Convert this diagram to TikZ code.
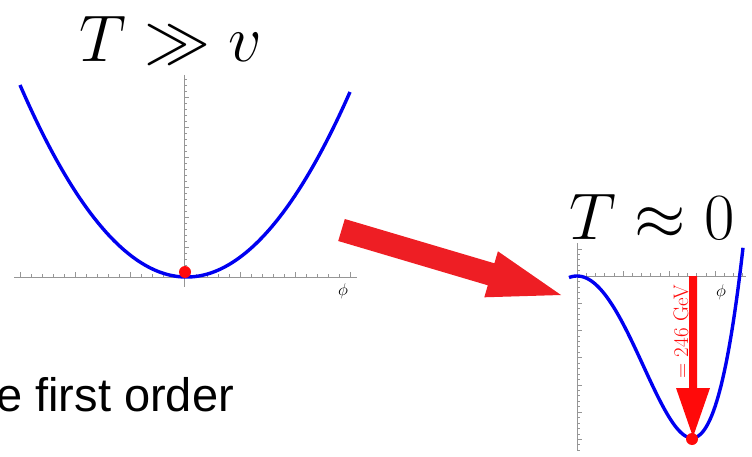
\RequirePackage{fix-cm}
\documentclass[tikz,border=0pt]{standalone}
\usepackage{fontspec}
\newfontfamily\arialfont{Liberation Sans}
\definecolor{axisgray}{RGB}{150,150,150}
\definecolor{curveblue}{RGB}{0,0,240}
\definecolor{dotred}{RGB}{255,10,10}
\definecolor{arrowred}{RGB}{238,30,36}
\begin{document}
\begin{tikzpicture}[x=1pt,y=-1pt,
  axisline/.style={draw=axisgray, line width=0.8pt},
  tickmark/.style={draw=axisgray, line width=0.5pt},
  curve/.style={draw=curveblue, line width=3.4pt},
  dotmark/.style={fill=dotred},
  titletext/.style={inner sep=0pt, anchor=base, font=\fontsize{66}{70}\selectfont},
  philabel/.style={inner sep=0pt, font=\fontsize{17}{17}\selectfont}]
\useasboundingbox (0,0) rectangle (752,457);
% ---------- left plot ----------
\draw[axisline] (14,277) -- (357,277);
\draw[axisline] (184,75) -- (184,287);
\foreach \i in {0,...,30} \draw[tickmark] ({20+11*\i},277) -- ++(0,-3);
\foreach \i in {0,...,6} \draw[tickmark] ({20+55*\i},277) -- ++(0,-5);
\foreach \i in {1,...,33} \draw[tickmark] (184,{277-6*\i}) -- ++(3,0);
\foreach \i in {1,...,6} \draw[tickmark] (184,{277-30*\i}) -- ++(5,0);
\draw[curve] plot[domain=-164:166,samples=120,smooth] ({184+\x},{277-0.6925*(\x/10)*(\x/10)+0.035*\x});
\fill[dotmark] (185,272) circle (6);
\node[titletext] (hot) at (171,62) {$T \gg v$};
\node[philabel] (phileft) at (343,291) {$\phi$};
% ---------- right plot ----------
\draw[axisline] (570,276) -- (746,276);
\draw[axisline] (577,243) -- (577,451);
\foreach \i in {1,...,18} \draw[tickmark] ({577+9.2*\i},276) -- ++(0,-3);
\foreach \i in {1,2,3} \draw[tickmark] ({577+46*\i},276) -- ++(0,-5);
\foreach \i in {-5,...,32} \draw[tickmark] (577,{276+5.44*\i}) -- ++(3,0);
\foreach \i in {-1,...,6} \draw[tickmark] (577,{276+27.2*\i}) -- ++(5,0);
\draw[curve] plot[domain=-8:166,samples=140,smooth] ({577+\x},{276+162*(2*(\x/115)*(\x/115)-(\x/115)*(\x/115)*(\x/115)*(\x/115))});
\node[titletext] (cold) at (652,240) {$T \approx 0$};
\node[philabel] (phiright) at (721,292) {$\phi$};
% vev arrow
\fill[dotred] (689,276) -- (697,276) -- (697,388) -- (710,388) -- (693,437) -- (676,388) -- (689,388) -- cycle;
\node[rotate=90, inner sep=0pt, text=dotred, font=\fontsize{21}{21}\selectfont] (vev) at (681,332) {$=$ 246 GeV};
\fill[dotmark] (692,439) circle (6);
% ---------- big arrow ----------
\fill[arrowred] (344.8,219.0) -- (494.4,263.3) -- (497.9,251.3) -- (561,295) -- (484.3,297.3) -- (487.8,285.3) -- (338.2,241.0) -- cycle;
% ---------- text ----------
\node[anchor=base west, inner sep=0pt, font=\arialfont\fontsize{47}{50}\selectfont] (order) at (-4,411) {e first order};
\end{tikzpicture}
\end{document}
